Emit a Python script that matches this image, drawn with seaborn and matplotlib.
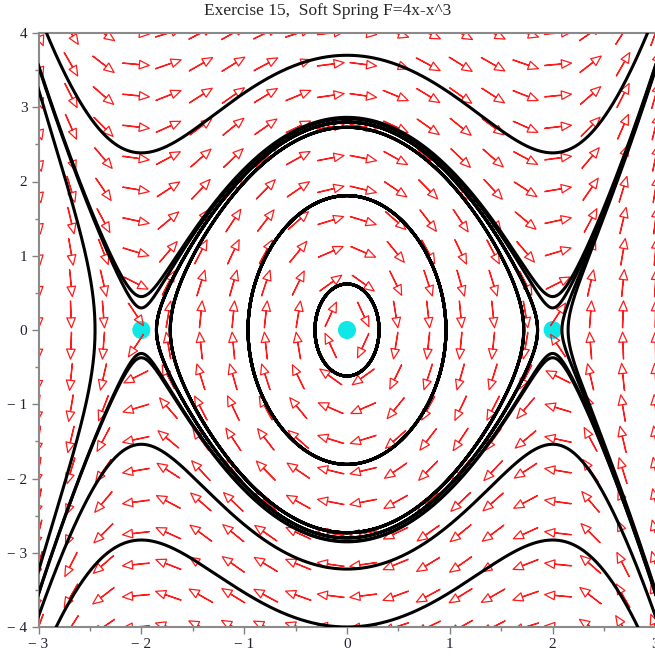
import numpy as np
import pandas as pd
import matplotlib
matplotlib.use("Agg")
import matplotlib.pyplot as plt
import seaborn as sns

# soft spring: x' = y,  y' = -(4x - x^3)
title = "Exercise 15,  Soft Spring F=4x-x^3"

# initial points of the drawn trajectories
traj_x0 = [0.0, 0.0, 0.0, 0.0, 0.0, 0.0, 0.0, 0.0, 0.0, 0.0, 0.0, 2.09, 2.15, -2.45]
traj_y0 = [0.62, 1.81, 2.73, 2.80, 2.844, 2.864, -2.846, -2.853, 3.70, -3.22, -4.0, 0.0, 0.0, 0.0]

# equilibrium points
eq_x = [-2, 0, 2]
eq_y = [0, 0, 0]

x_ticks = [-3, -2, -1, 0, 1, 2, 3]
x_labels = ["\u2212 3", "\u2212 2", "\u2212 1", "0", "1", "2", "3"]
y_ticks = [-4, -3, -2, -1, 0, 1, 2, 3, 4]
y_labels = ["\u2212 4", "\u2212 3", "\u2212 2", "\u2212 1", "0", "1", "2", "3", "4"]


def field(x, y):
    return y, -4 * x + x ** 3


def integrate(x0, y0, dt, steps):
    xs, ys = [x0], [y0]
    x, y = np.array(x0, float), np.array(y0, float)
    for _ in range(steps):
        k1 = field(x, y)
        k2 = field(x + dt / 2 * k1[0], y + dt / 2 * k1[1])
        k3 = field(x + dt / 2 * k2[0], y + dt / 2 * k2[1])
        k4 = field(x + dt * k3[0], y + dt * k3[1])
        x = x + dt / 6 * (k1[0] + 2 * k2[0] + 2 * k3[0] + k4[0])
        y = y + dt / 6 * (k1[1] + 2 * k2[1] + 2 * k3[1] + k4[1])
        xs.append(x)
        ys.append(y)
    return np.array(xs), np.array(ys)


def inside(px, py):
    ok = (np.abs(px) <= 3.2) & (np.abs(py) <= 4.4)
    if ok.all():
        return len(px)
    return np.argmin(ok)


fwd_x, fwd_y = integrate(traj_x0, traj_y0, 0.002, 4000)
bwd_x, bwd_y = integrate(traj_x0, traj_y0, -0.002, 4000)

rows = []
for i in range(len(traj_x0)):
    nf = max(inside(fwd_x[:, i], fwd_y[:, i]), 1)
    nb = max(inside(bwd_x[:, i], bwd_y[:, i]), 1)
    px = np.concatenate([bwd_x[:nb, i][::-1], fwd_x[1:nf + 1, i]])
    py = np.concatenate([bwd_y[:nb, i][::-1], fwd_y[1:nf + 1, i]])
    rows.append(pd.DataFrame({"x": px, "y": py, "traj": i}))
traj = pd.concat(rows, ignore_index=True)

sns.set_style("white")
fig = plt.figure(figsize=(6.55, 6.59), dpi=100)
ax = fig.add_axes([38.5 / 655, 32 / 659, 617 / 655, 594 / 659])

# direction field, 20 x 20 arrows of fixed length
gx, gy = np.meshgrid(np.linspace(-3, 3, 20), np.linspace(-4, 4, 20))
u, v = field(gx, gy)
sx, sy = 617 / 6, 594 / 8
n = np.hypot(u * sx, v * sy)
L = 27
ax.quiver(gx, gy, u / n * L, v / n * L, angles="xy", scale_units="xy", scale=1,
          pivot="mid", facecolor="none", edgecolor="#ff1a1a", linewidth=0.9,
          width=0.0006, headwidth=23, headlength=27, headaxislength=27, zorder=2)

sns.scatterplot(x=eq_x, y=eq_y, color="#10e8e8", s=170, edgecolor="none",
                zorder=1.5, ax=ax)

sns.lineplot(data=traj, x="x", y="y", units="traj", estimator=None, sort=False,
             color="black", linewidth=2.2, zorder=3, ax=ax)

ax.set_xlim(-3, 3)
ax.set_ylim(-4, 4)
ax.set_xlabel("")
ax.set_ylabel("")
ax.set_xticks(x_ticks)
ax.set_xticklabels(x_labels, fontfamily="Liberation Serif", fontsize=11)
ax.set_yticks(y_ticks)
ax.set_yticklabels(y_labels, fontfamily="Liberation Serif", fontsize=11)
ax.set_xticks(np.arange(-2.5, 3, 1), minor=True)
ax.set_yticks(np.arange(-3.5, 4, 1), minor=True)
ax.tick_params(which="major", direction="out", length=5, width=1, color="#808080",
               labelcolor="#222233", left=True, bottom=True, pad=3)
ax.tick_params(which="minor", direction="out", length=3, width=1, color="#808080",
               left=True, bottom=True)
for side in ["left", "bottom", "top"]:
    ax.spines[side].set_color("#8a8a8a")
    ax.spines[side].set_linewidth(1.5)
ax.spines["right"].set_visible(False)

fig.text(0.5, 0.983, title, ha="center", va="center",
         fontfamily="Liberation Serif", fontsize=12.5)

fig.savefig("out.png", dpi=100)
